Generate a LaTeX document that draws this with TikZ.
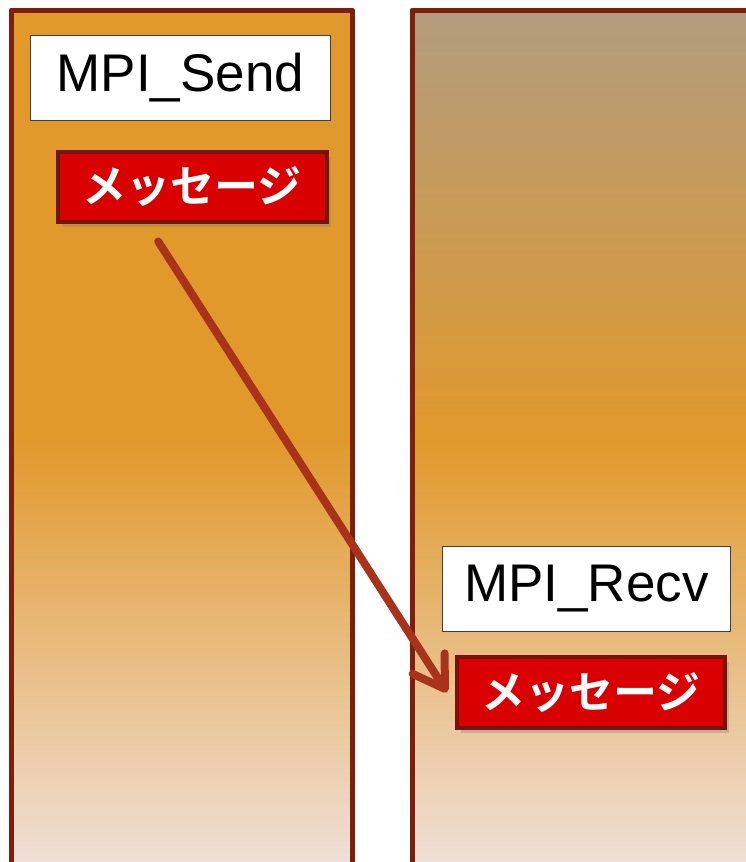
\documentclass[tikz,border=0pt]{standalone}
\usepackage{fontspec}
\setmainfont{Liberation Sans}
\newfontfamily\jpfont[BoldFont={Noto Sans CJK JP Bold}]{Noto Sans CJK JP}
\usepackage{tikz}
\usetikzlibrary{positioning,arrows.meta,calc,shadows}
\definecolor{procorange}{HTML}{E1992B}
\definecolor{proclight}{HTML}{F0E2DD}
\definecolor{proctan}{HTML}{B29C7E}
\definecolor{procframe}{HTML}{7D1F0A}
\definecolor{flowred}{HTML}{A8321A}
\definecolor{msgfill}{HTML}{D80000}
\definecolor{msgedge}{HTML}{74140A}
\tikzset{
  proc/.style={draw=procframe, line width=5pt, line join=round},
  call/.style={draw=black!75, line width=0.9pt, fill=white, anchor=north west,
               font=\fontsize{53}{60}\selectfont, inner sep=0pt},
  msg/.style={draw=msgedge, line width=3.5pt, fill=msgfill, anchor=north west,
              text=white, font=\jpfont\bfseries\fontsize{44}{50}\selectfont, inner sep=0pt,
              drop shadow={shadow xshift=4pt, shadow yshift=-5pt, opacity=0.35}},
  flow/.style={-{Straight Barb[length=30pt, width=38pt, line width=8pt, round]},
               line width=8pt, draw=flowred, line cap=round},
}
\begin{document}
\begin{tikzpicture}[x=1pt, y=-1pt]
    \clip (0,0) rectangle (746,862);
    \fill[procorange] (11,10) rectangle (352,440);
    \shade[top color=procorange, bottom color=proclight] (11,440) rectangle (352,880);
    \draw[proc] (11,880) -- (11,10) -- (352,10) -- (352,880);
    \shade[top color=proctan, bottom color=procorange] (412,10) rectangle (760,440);
    \shade[top color=procorange, bottom color=proclight] (412,440) rectangle (760,880);
    \draw[proc] (412,880) -- (412,10) -- (760,10);
    \node[call, minimum width=300pt, minimum height=85pt] (sendcall) at (30,35) {MPI\_Send};
    \node[msg, minimum width=269pt, minimum height=70pt] (sendmsg) at (56,150) {メッセージ};
    \node[call, minimum width=288pt, minimum height=85pt] (recvcall) at (442,546) {MPI\_Recv};
    \node[msg, minimum width=268pt, minimum height=71pt] (recvmsg) at (455,655) {メッセージ};
    \draw[flow] ([shift={(-34,18)}]sendmsg.south) -- ([xshift=-8pt]recvmsg.west);
  \end{tikzpicture}
\end{document}
